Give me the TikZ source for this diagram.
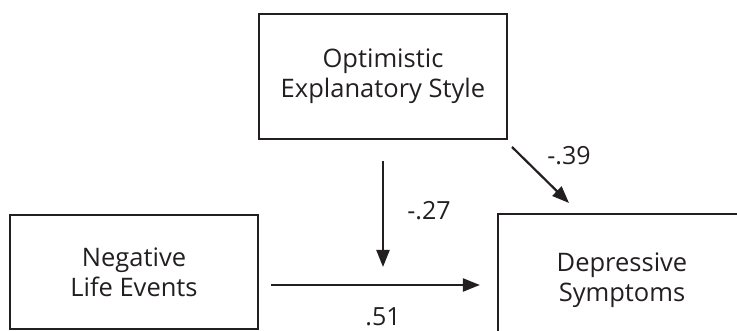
\documentclass[tikz,border=0pt]{standalone}
\usepackage{fontspec}
\setmainfont{Open Sans}
\usetikzlibrary{arrows.meta}
\definecolor{ink}{HTML}{231F20}
\tikzset{
  box/.style={draw=ink, line width=2.2pt, rectangle, align=center, text=ink,
    font=\fontsize{25.5}{30}\selectfont, inner sep=0pt},
  lbl/.style={text=ink, font=\fontsize{25}{28}\selectfont, inner sep=0pt},
  conn/.style={draw=ink, line width=2.2pt, -{Triangle[length=17pt,width=13pt]}}
}
\begin{document}
\begin{tikzpicture}[x=1pt,y=-1pt]
\useasboundingbox (0,0) rectangle (737,331);
\node[box, minimum width=248pt, minimum height=125pt] (opt) at (383,76.5) {Optimistic\\Explanatory Style};
\node[box, minimum width=248pt, minimum height=114pt] (neg) at (134,272) {Negative\\Life Events};
\node[box, minimum width=248pt, minimum height=132pt] (dep) at (622,280) {Depressive\\Symptoms};
\coordinate (vtop) at (383,161);
\coordinate (vend) at (383,267);
\coordinate (dstart) at (512,147);
\coordinate (dend) at (569,203);
\draw[conn, shorten <=12pt, shorten >=17pt] (neg.east |- 0,285) -- (dep.west |- 0,285);
\draw[conn] (vtop) -- (vend);
\draw[conn] (dstart) -- (dend);
\node[lbl] (l27) at (429,211) {-.27};
\node[lbl] (l51) at (383,317) {.51};
\node[lbl] (l39) at (569,156) {-.39};
\end{tikzpicture}
\end{document}
